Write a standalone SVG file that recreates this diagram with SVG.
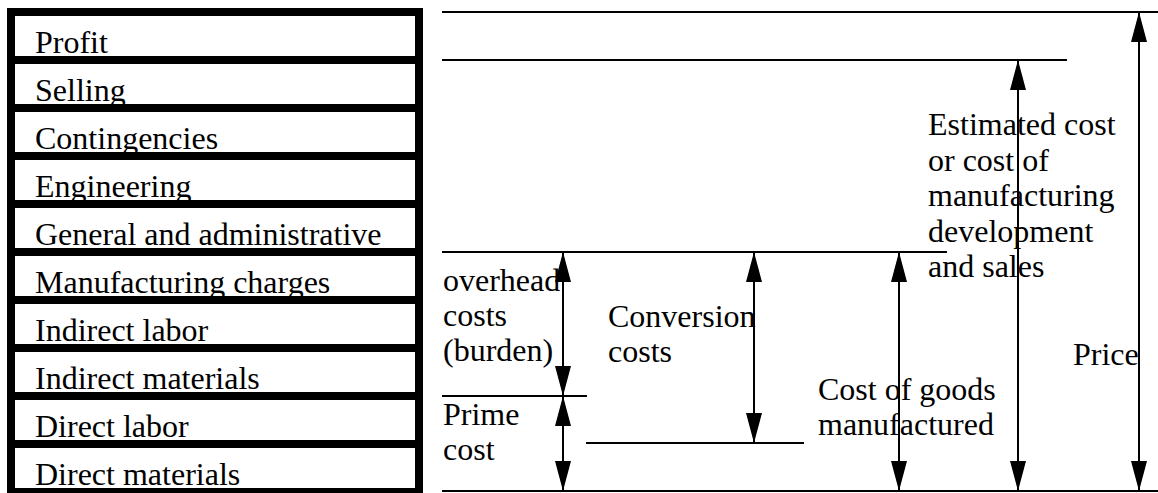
<svg xmlns="http://www.w3.org/2000/svg" width="1158" height="493" viewBox="0 0 1158 493">
<style>
  .t { font-family: "Liberation Serif", "Times New Roman", serif; font-size: 32px; fill: #000; }
  .box { fill: none; stroke: #000; stroke-width: 8; }
  .ln { stroke: #000; stroke-width: 2; fill: none; }
  .arr { stroke: #000; stroke-width: 2; fill: none; marker-start: url(#ah); marker-end: url(#ah); }
</style>
<defs>
  <marker id="ah" viewBox="0 0 30 16" refX="30" refY="8" markerWidth="30" markerHeight="16" markerUnits="userSpaceOnUse" orient="auto-start-reverse">
    <path d="M0,0 L30,8 L0,16 Z" fill="#000"/>
  </marker>
</defs>
<rect width="1158" height="493" fill="#fff"/>

<g id="profit"><text class="t" x="35" y="53">Profit</text><rect class="box" x="11" y="12" width="408" height="48"/></g>
<g id="selling"><text class="t" x="35" y="101">Selling</text><rect class="box" x="11" y="60" width="408" height="48"/></g>
<g id="contingencies"><text class="t" x="35" y="149">Contingencies</text><rect class="box" x="11" y="108" width="408" height="48"/></g>
<g id="engineering"><text class="t" x="35" y="197">Engineering</text><rect class="box" x="11" y="156" width="408" height="48"/></g>
<g id="general"><text class="t" x="35" y="245">General and administrative</text><rect class="box" x="11" y="204" width="408" height="48"/></g>
<g id="manufacturing"><text class="t" x="35" y="293">Manufacturing charges</text><rect class="box" x="11" y="252" width="408" height="48"/></g>
<g id="indirect-labor"><text class="t" x="35" y="341">Indirect labor</text><rect class="box" x="11" y="300" width="408" height="48"/></g>
<g id="indirect-materials"><text class="t" x="35" y="389">Indirect materials</text><rect class="box" x="11" y="348" width="408" height="48"/></g>
<g id="direct-labor"><text class="t" x="35" y="437">Direct labor</text><rect class="box" x="11" y="396" width="408" height="48"/></g>
<g id="direct-materials"><text class="t" x="35" y="485">Direct materials</text><rect class="box" x="11" y="444" width="408" height="48"/></g>

<g id="levels">
  <line class="ln" x1="442" y1="12" x2="1158" y2="12"/>
  <line class="ln" x1="442" y1="60" x2="1067" y2="60"/>
  <line class="ln" x1="442" y1="252" x2="947" y2="252"/>
  <line class="ln" x1="442" y1="396" x2="587" y2="396"/>
  <line class="ln" x1="586" y1="443" x2="804" y2="443"/>
  <line class="ln" x1="442" y1="491" x2="1158" y2="491"/>
</g>

<g id="labels">
  <text class="t" x="443" y="291">overhead</text>
  <text class="t" x="443" y="326">costs</text>
  <text class="t" x="443" y="361">(burden)</text>
  <text class="t" x="443" y="425">Prime</text>
  <text class="t" x="443" y="460">cost</text>
  <text class="t" x="608" y="327">Conversion</text>
  <text class="t" x="608" y="362">costs</text>
  <text class="t" x="818" y="400">Cost of goods</text>
  <text class="t" x="818" y="435">manufactured</text>
  <text class="t" x="928" y="135">Estimated cost</text>
  <text class="t" x="928" y="171">or cost of</text>
  <text class="t" x="928" y="206">manufacturing</text>
  <text class="t" x="928" y="242">development</text>
  <text class="t" x="928" y="277">and sales</text>
  <text class="t" x="1073" y="365">Price</text>
</g>

<g id="connectors">
  <line class="arr" x1="563" y1="252" x2="563" y2="396"/>
  <line class="arr" x1="563" y1="396" x2="563" y2="491"/>
  <line class="arr" x1="754" y1="252" x2="754" y2="443"/>
  <line class="arr" x1="899" y1="252" x2="899" y2="491"/>
  <line class="arr" x1="1018" y1="60" x2="1018" y2="491"/>
  <line class="arr" x1="1139" y1="12" x2="1139" y2="491"/>
</g>
</svg>
